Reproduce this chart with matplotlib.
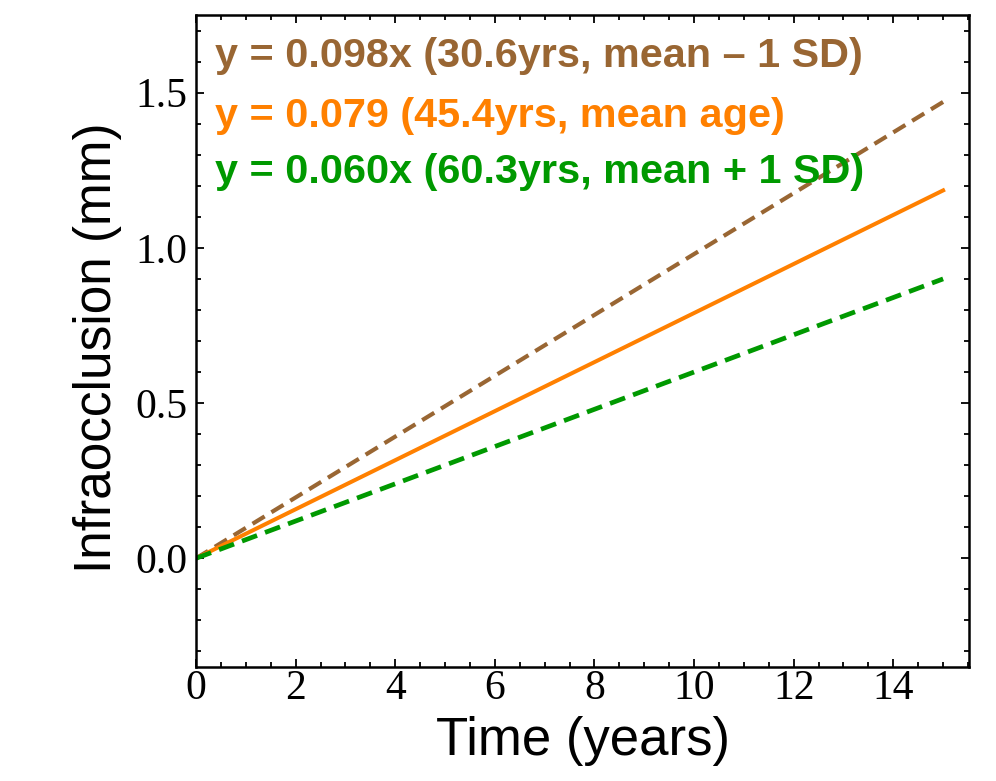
import matplotlib
matplotlib.use("Agg")
import matplotlib.pyplot as plt
from matplotlib.ticker import MultipleLocator

# time axis (years) and fitted infraocclusion (mm) for three ages
time = [0, 15]
infra_young = [0.0, 1.47]   # 30.6 yrs, mean - 1 SD
infra_mean = [0.0, 1.185]   # 45.4 yrs, mean age
infra_old = [0.0, 0.90]     # 60.3 yrs, mean + 1 SD

labels = ["y = 0.098x (30.6yrs, mean \u2013 1 SD)",
          "y = 0.079 (45.4yrs, mean age)",
          "y = 0.060x (60.3yrs, mean + 1 SD)"]

brown = "#996633"
orange = "#ff8000"
green = "#009900"

fig = plt.figure(figsize=(9.96, 7.81), dpi=100)
ax = fig.add_axes([0.1968, 0.146, 0.7761, 0.8348])

ax.plot(time, infra_young, color=brown, lw=3.0, dashes=(3.4, 1.9))
ax.plot(time, infra_mean, color=orange, lw=2.9)
ax.plot(time, infra_old, color=green, lw=3.4, dashes=(3.4, 1.8))

ax.set_xlim(0, 15.52)
ax.set_ylim(-0.35, 1.75)

ax.xaxis.set_major_locator(MultipleLocator(2))
ax.xaxis.set_minor_locator(MultipleLocator(0.5))
ax.yaxis.set_major_locator(MultipleLocator(0.5))
ax.yaxis.set_minor_locator(MultipleLocator(0.1))
ax.yaxis.set_major_formatter(matplotlib.ticker.FormatStrFormatter("%.1f"))

ax.tick_params(which="both", direction="in", top=True, right=True, width=1.3)
ax.tick_params(which="major", length=6)
ax.tick_params(which="minor", length=3.5)
ax.tick_params(axis="x", pad=2)
ax.tick_params(axis="y", pad=6)
for lab in ax.get_xticklabels() + ax.get_yticklabels():
    lab.set_fontfamily("Liberation Serif")
    lab.set_fontsize(30)

for sp in ax.spines.values():
    sp.set_linewidth(1.8)

ax.set_xlabel("Time (years)", fontfamily="Liberation Sans", fontsize=38)
ax.set_ylabel("Infraocclusion (mm)", fontfamily="Liberation Sans", fontsize=37)
ax.xaxis.set_label_coords(0.5, -0.075)
ax.yaxis.set_label_coords(-0.096, 0.49)

for lab, col, yy in zip(labels, [brown, orange, green], [0.920, 0.828, 0.742]):
    ax.text(0.0246, yy, lab, transform=ax.transAxes, color=col,
            fontfamily="Liberation Sans", fontweight="bold", fontsize=29.8,
            va="baseline", ha="left")

fig.savefig("out.png", dpi=100)
